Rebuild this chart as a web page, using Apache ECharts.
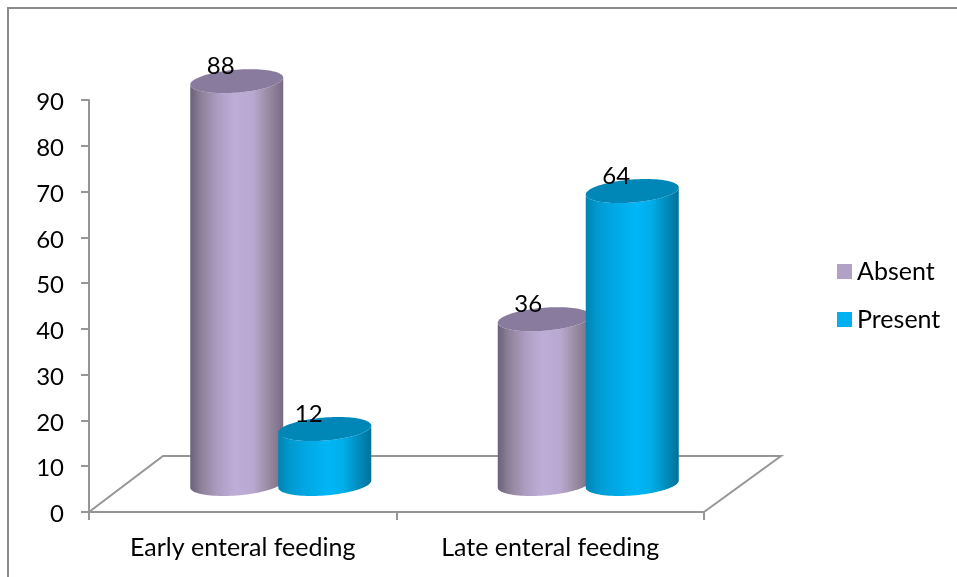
<!DOCTYPE html>
<html>
<head>
<meta charset="utf-8">
<style>html,body{margin:0;padding:0;background:#fff}#chart{width:957px;height:577px}</style>
<script src="https://cdn.jsdelivr.net/npm/echarts@6/dist/echarts.min.js"></script>
</head>
<body>
<div id="chart"></div>
<script>
const categories = ['Early enteral feeding', 'Late enteral feeding'];
const seriesNames = ['Absent', 'Present'];
const absentValues = [88, 36];
const presentValues = [12, 64];
const yTicks = { min: 0, max: 90, interval: 10 };

const FONT = 'Lato, "Open Sans", sans-serif';
const GREY = '#969696';
const DEPTH = { dx: 38, dy: -28 };       // floor mid-line relative to the axis line
const CYL = { rx: 46.5, ry: 11.5, skew: -3.5, gap: 88 };

const palettes = {
  Absent: {
    legend: '#b2a1c7', top: '#897b9e',
    stops: [[0, '#6b617a'], [0.12, '#8f8199'], [0.3, '#ae9dc2'], [0.48, '#beadd6'], [0.68, '#b8a7cf'], [0.85, '#97899f'], [1, '#776b85']]
  },
  Present: {
    legend: '#00b0f0', top: '#0087b8',
    stops: [[0, '#0083b3'], [0.12, '#0099cf'], [0.3, '#00a8e4'], [0.55, '#00b6f7'], [0.7, '#00aee9'], [0.85, '#008fc0'], [1, '#00719a']]
  }
};

// Outline of the sloped ellipse that caps or closes a cylinder.
function ellipsePoint(cx, cy, t) {
  return [cx + CYL.rx * Math.cos(t), cy + CYL.skew * Math.cos(t) + CYL.ry * Math.sin(t)];
}

function cylinderItem(name, index) {
  return function (params, api) {
    const cat = api.value(0);
    const value = api.value(1);
    const base = api.coord([cat, 0]);
    const top = api.coord([cat, value]);
    const cx = base[0] + DEPTH.dx + (index === 0 ? -CYL.gap / 2 : CYL.gap / 2);
    const yBase = base[1] + DEPTH.dy;
    const yTop = top[1] + DEPTH.dy;
    const pal = palettes[name];
    const body = [];
    const cap = [];
    for (let i = 0; i <= 48; i++) {
      const t = Math.PI - (Math.PI * i) / 48;
      body.push(ellipsePoint(cx, yBase, t));
    }
    body.push(ellipsePoint(cx, yTop, 0));
    for (let i = 1; i <= 48; i++) {
      body.push(ellipsePoint(cx, yTop, (Math.PI * i) / 48));
    }
    for (let i = 0; i < 96; i++) {
      cap.push(ellipsePoint(cx, yTop, (2 * Math.PI * i) / 96));
    }
    return {
      type: 'group',
      children: [
        {
          type: 'polygon',
          shape: { points: body },
          style: {
            fill: new echarts.graphic.LinearGradient(0, 0, 1, 0,
              pal.stops.map(s => ({ offset: s[0], color: s[1] })))
          }
        },
        { type: 'polygon', shape: { points: cap }, style: { fill: pal.top } },
        {
          type: 'text',
          z2: 10,
          style: {
            x: cx - 16,
            y: yTop - 15,
            text: String(value),
            font: '24px ' + FONT,
            fill: '#000',
            align: 'center',
            verticalAlign: 'middle'
          }
        }
      ]
    };
  };
}

// Back and side edges of the chart floor.
function floorItem(params) {
  const g = params.coordSys;
  const y0 = g.y + g.height;
  return {
    type: 'polyline',
    silent: true,
    shape: {
      points: [
        [g.x, y0],
        [g.x + 74, y0 - 56],
        [g.x + g.width + 77, y0 - 56],
        [g.x + g.width, y0]
      ]
    },
    style: { stroke: GREY, lineWidth: 2, fill: null }
  };
}

const chart = echarts.init(document.getElementById('chart'), null, { renderer: 'canvas' });
chart.setOption({
  animation: false,
  backgroundColor: '#fff',
  textStyle: { fontFamily: FONT },
  graphic: [
    {
      type: 'polyline',
      silent: true,
      shape: { points: [[8, 577], [8, 8], [957, 8]] },
      style: { stroke: '#8a8a8a', lineWidth: 2, fill: null }
    }
  ],
  grid: { left: 89, right: 253, top: 100, bottom: 65 },
  legend: {
    orient: 'vertical',
    left: 837,
    top: 259,
    padding: 0,
    itemWidth: 15,
    itemHeight: 15,
    itemGap: 23,
    icon: 'rect',
    data: seriesNames.map((n) => ({ name: n, itemStyle: { color: palettes[n].legend } })),
    textStyle: { fontFamily: FONT, fontSize: 25, color: '#000' }
  },
  xAxis: {
    type: 'category',
    data: categories,
    axisLine: { lineStyle: { color: GREY, width: 2 } },
    axisTick: { show: true, length: 8, alignWithLabel: false, lineStyle: { color: GREY, width: 2 } },
    axisLabel: { color: '#000', fontSize: 25, fontFamily: FONT, margin: 23 }
  },
  yAxis: {
    type: 'value',
    min: yTicks.min,
    max: yTicks.max,
    interval: yTicks.interval,
    splitLine: { show: false },
    axisLine: { show: true, lineStyle: { color: GREY, width: 2 } },
    axisTick: { show: true, length: 8, lineStyle: { color: GREY, width: 2 } },
    axisLabel: {
      margin: 25,
      formatter: '{tick|{value}}',
      rich: { tick: { color: '#000', fontSize: 24, fontFamily: FONT, padding: [5, 0, 0, 0] } }
    }
  },
  series: [
    {
      name: 'floor',
      type: 'custom',
      coordinateSystem: 'cartesian2d',
      renderItem: floorItem,
      data: [[0, 0]],
      z: 1,
      silent: true
    },
    {
      name: seriesNames[0],
      type: 'custom',
      coordinateSystem: 'cartesian2d',
      renderItem: cylinderItem(seriesNames[0], 0),
      encode: { x: 0, y: 1 },
      data: absentValues.map((v, i) => [i, v]),
      z: 2,
      itemStyle: { color: palettes.Absent.legend },
      silent: true
    },
    {
      name: seriesNames[1],
      type: 'custom',
      coordinateSystem: 'cartesian2d',
      renderItem: cylinderItem(seriesNames[1], 1),
      encode: { x: 0, y: 1 },
      data: presentValues.map((v, i) => [i, v]),
      z: 3,
      itemStyle: { color: palettes.Present.legend },
      silent: true
    }
  ]
});
</script>
</body>
</html>
